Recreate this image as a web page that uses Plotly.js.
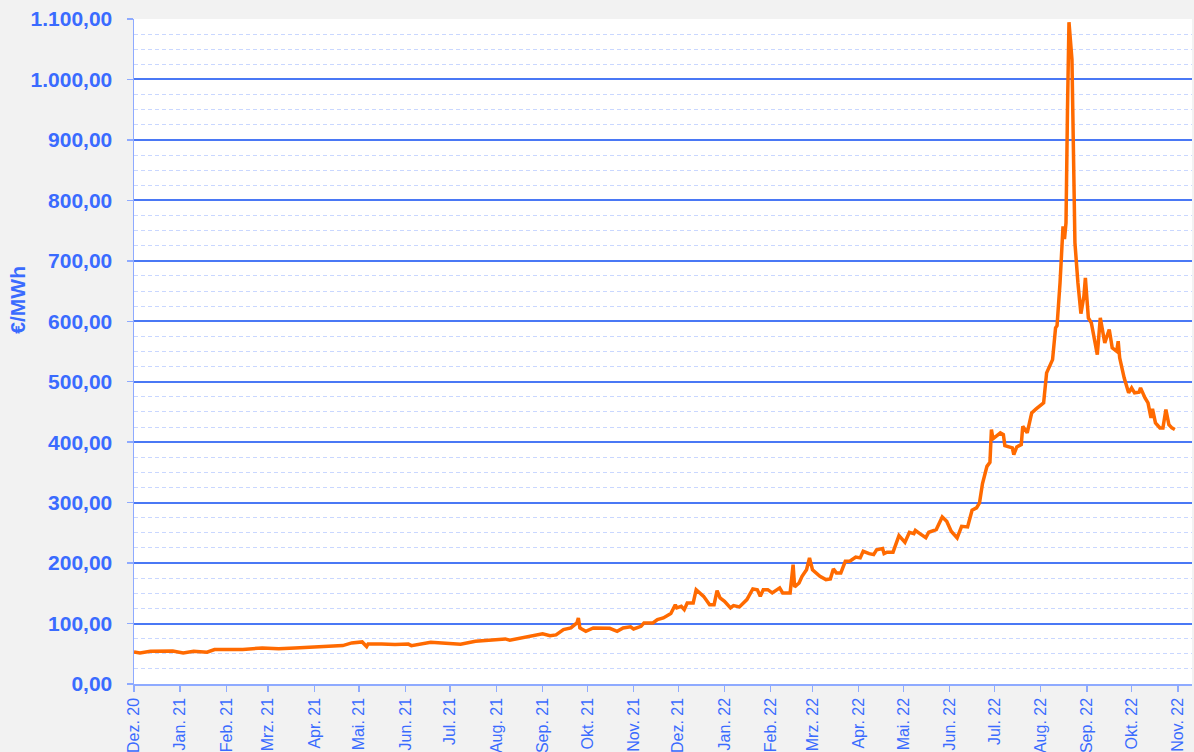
<!DOCTYPE html>
<html>
<head>
<meta charset="utf-8">
<script src="https://cdn.plot.ly/plotly-3.0.1.min.js"></script>
<style>
html,body{margin:0;padding:0;background:#f2f2f2;}
#chart{width:1194px;height:752px;}
</style>
</head>
<body>
<div id="chart"></div>
<script>
// Daily-ish price series (€/MWh)
const dates = [
 "2020-12-01","2020-12-05","2020-12-12","2020-12-21","2020-12-27",
 "2021-01-03","2021-01-10","2021-01-19","2021-01-24",
 "2021-02-04","2021-02-12","2021-02-25",
 "2021-03-08","2021-03-19","2021-03-31",
 "2021-04-11","2021-04-20","2021-04-26",
 "2021-05-03","2021-05-06","2021-05-07","2021-05-16","2021-05-25",
 "2021-06-03","2021-06-05","2021-06-18","2021-06-29",
 "2021-07-08","2021-07-18","2021-07-29",
 "2021-08-07","2021-08-10","2021-08-21",
 "2021-09-01","2021-09-06","2021-09-10","2021-09-15","2021-09-20","2021-09-24","2021-09-25","2021-09-26","2021-09-30",
 "2021-10-05","2021-10-16","2021-10-21","2021-10-25","2021-10-30",
 "2021-11-01","2021-11-06","2021-11-08","2021-11-14","2021-11-17","2021-11-21","2021-11-25","2021-11-26","2021-11-29","2021-11-30",
 "2021-12-03","2021-12-05","2021-12-07","2021-12-11","2021-12-13","2021-12-18","2021-12-22","2021-12-25","2021-12-27","2021-12-29",
 "2022-01-01","2022-01-05","2022-01-07","2022-01-11","2022-01-16","2022-01-20","2022-01-23","2022-01-25","2022-01-27","2022-01-30",
 "2022-02-02","2022-02-07","2022-02-09","2022-02-14","2022-02-16","2022-02-17","2022-02-20","2022-02-22","2022-02-25","2022-02-27",
 "2022-03-01","2022-03-06","2022-03-10","2022-03-13","2022-03-15","2022-03-17","2022-03-20","2022-03-23","2022-03-26","2022-03-30",
 "2022-04-02","2022-04-04","2022-04-08","2022-04-11","2022-04-13","2022-04-17","2022-04-18","2022-04-20","2022-04-24","2022-04-28",
 "2022-05-02","2022-05-05","2022-05-08","2022-05-09","2022-05-12","2022-05-16","2022-05-18","2022-05-20","2022-05-23","2022-05-27","2022-05-30",
 "2022-06-02","2022-06-06","2022-06-09","2022-06-13","2022-06-16","2022-06-19","2022-06-21","2022-06-23","2022-06-26","2022-06-28","2022-06-29","2022-06-30",
 "2022-07-05","2022-07-07","2022-07-08","2022-07-13","2022-07-14","2022-07-16","2022-07-19","2022-07-20","2022-07-23","2022-07-26","2022-07-29",
 "2022-08-02","2022-08-03","2022-08-05","2022-08-07","2022-08-09","2022-08-11","2022-08-12","2022-08-14","2022-08-16","2022-08-17","2022-08-18","2022-08-19","2022-08-20","2022-08-22","2022-08-23","2022-08-24","2022-08-26","2022-08-28","2022-08-30","2022-08-31",
 "2022-09-02","2022-09-04","2022-09-08","2022-09-10","2022-09-13","2022-09-16","2022-09-18","2022-09-21","2022-09-22","2022-09-23","2022-09-26","2022-09-28","2022-09-29",
 "2022-10-01","2022-10-03","2022-10-06","2022-10-07","2022-10-10","2022-10-12","2022-10-14","2022-10-15","2022-10-17","2022-10-20","2022-10-22","2022-10-24","2022-10-26","2022-10-28","2022-10-30"
];
const prices = [
 53,51.5,54,55,54.5,
 51.5,54,52.5,57,
 57,57,59.7,
 58.5,59.7,60.7,
 61.4,63.5,68,
 69.6,62,66.3,66.3,65.2,
 66,63.5,69,66.8,
 65.7,70.6,73.4,
 74.6,72.3,77.9,
 82.9,80,81.2,90,92.8,101,109,92.8,87.2,
 92.8,92.1,87.2,92.8,94.5,
 91.1,95.4,101,101,106.5,109.3,114.8,116.5,131,126,
 128.5,123,134,134,156,145,131,131,154.5,142.4,
 136.8,125.9,129.7,127.5,139.6,157.3,156,145,156,156,
 150.7,159,150.7,150.7,197.5,160.6,167,178,189,208.6,
 189,178,172.7,173.9,190.4,183.8,183.8,203,203,210,
 208.6,219.5,215.7,214,222,224,215.7,218,218,245.5,
 234.4,251,248.8,254,248.8,242,251,252.6,255.4,276.4,269,
 252.6,241.7,260.9,259.9,287.4,291.3,299.6,331.5,360,366.7,420.8,405.5,
 415.4,412.6,394.4,390.6,379.5,392.2,396,426.3,415.4,448.5,455,
 462.2,465,514.6,525.6,536.6,589,592.9,663.5,757,736,762.8,950,1094.6,1033,895,729.7,663.5,612.7,641.3,671.8,
 605.6,597.3,544.9,605.6,564.3,586.3,556,550.4,566.9,539.5,506.4,487,481.6,
 489.8,481.6,482.6,489.8,473.3,465,440.2,455.1,431.9,423.6,423.6,454,429,423.6,421
];
// Month ticks
const tickDates = ["2020-12-01","2021-01-01","2021-02-01","2021-03-01","2021-04-01","2021-05-01","2021-06-01","2021-07-01","2021-08-01","2021-09-01","2021-10-01","2021-11-01","2021-12-01","2022-01-01","2022-02-01","2022-03-01","2022-04-01","2022-05-01","2022-06-01","2022-07-01","2022-08-01","2022-09-01","2022-10-01","2022-11-01"];
const tickLabels = ["Dez. 20","Jan. 21","Feb. 21","Mrz. 21","Apr. 21","Mai. 21","Jun. 21","Jul. 21","Aug. 21","Sep. 21","Okt. 21","Nov. 21","Dez. 21","Jan. 22","Feb. 22","Mrz. 22","Apr. 22","Mai. 22","Jun. 22","Jul. 22","Aug. 22","Sep. 22","Okt. 22","Nov. 22"];
const yTitle = "€/MWh";

const blue = "#3a6bff";
const axisLine = "#8eaaff";

const trace = {
  x: dates, y: prices, type: "scatter", mode: "lines",
  line: {color: "#ff6a00", width: 3.5, shape: "linear"},
  hoverinfo: "skip"
};

const layout = {
  width: 1194, height: 752,
  paper_bgcolor: "#f2f2f2",
  plot_bgcolor: "#ffffff",
  separators: ",.",
  margin: {l: 134, r: 2, t: 19, b: 68},
  showlegend: false,
  font: {family: "Liberation Sans, Arial, sans-serif", color: blue},
  xaxis: {
    type: "date",
    range: ["2020-12-01", "2022-11-10 12:00"],
    tickmode: "array", tickvals: tickDates, ticktext: tickLabels,
    tickangle: -90,
    tickfont: {size: 16, color: blue, family: "Liberation Sans, Arial, sans-serif"},
    showgrid: false, zeroline: false,
    showline: true, linecolor: axisLine, linewidth: 1.5,
    ticks: "outside", ticklen: 6, tickcolor: axisLine, tickwidth: 1.5
  },
  yaxis: {
    range: [0, 1100],
    dtick: 100, tick0: 0,
    tickformat: ",.2f",
    tickfont: {size: 21, color: blue, weight: "bold", family: "Liberation Sans, Arial, sans-serif"},
    showgrid: true, gridcolor: "#4a78f5", gridwidth: 2,
    zeroline: false,
    showline: true, linecolor: axisLine, linewidth: 1.5,
    ticks: "outside", ticklen: 6, tickcolor: axisLine, tickwidth: 1.5,
    ticklabelstandoff: 10,
    minor: {dtick: 25, showgrid: true, gridcolor: "#c9d7ff", griddash: "4px,3px", gridwidth: 1, ticks: ""}
  },
  annotations: [{
    text: yTitle, xref: "paper", yref: "paper",
    x: -0.1096, y: 0.578, xanchor: "center", yanchor: "middle",
    textangle: -90, showarrow: false,
    font: {size: 21, color: blue, weight: "bold", family: "Liberation Sans, Arial, sans-serif"}
  }]
};

Plotly.newPlot("chart", [trace], layout, {staticPlot: true, displayModeBar: false});
</script>
</body>
</html>
